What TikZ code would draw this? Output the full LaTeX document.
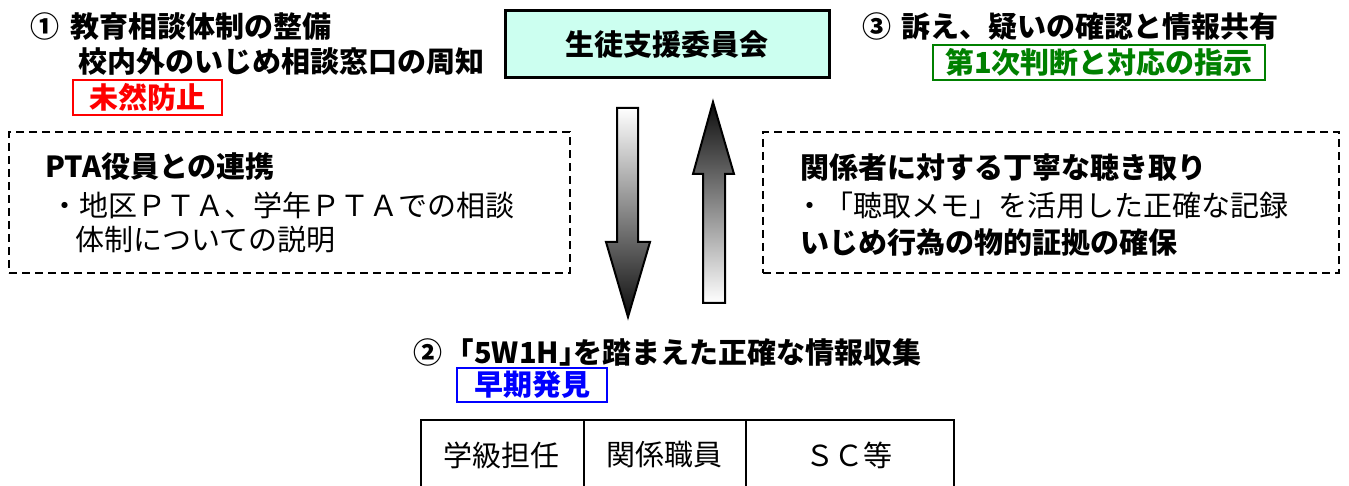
\documentclass[tikz,border=0pt]{standalone}
\usepackage{fontspec}
\newfontfamily\jp{Noto Sans CJK JP}
\definecolor{boxcyan}{RGB}{204,255,240}
\definecolor{tagred}{RGB}{255,0,0}
\definecolor{taggreen}{RGB}{0,128,0}
\definecolor{tagblue}{RGB}{0,0,255}
\begin{document}
\begin{tikzpicture}[x=0.5pt,y=-0.5pt,
  every node/.style={inner sep=0pt},
  head/.style={anchor=west, font=\jp\bfseries\fontsize{14.5}{17}\selectfont},
  body/.style={anchor=west, font=\jp\fontsize{14.5}{17}\selectfont},
  tagbox/.style={draw=#1, text=#1, line width=1pt, font=\jp\bfseries\fontsize{14.5}{17}\selectfont},
  dashbox/.style={draw=black, line width=0.8pt, dash pattern=on 4pt off 2.5pt},
  cell/.style={draw=black, line width=1pt},
  celltext/.style={font=\jp\fontsize{14.5}{17}\selectfont},
  arrowshape/.style={draw=black, line width=1pt}
]
\useasboundingbox (0,0) rectangle (1349,486);
\clip (0,0) rectangle (1349,486);

% top left
\node[head] (t1) at (30,27) {①\hspace{0.4em}教育相談体制の整備};
\node[head] (t2) at (78,62) {校内外のいじめ相談窓口の周知};
\node[tagbox=tagred, minimum width=74.5pt, minimum height=17.5pt] (mizen) at (147.5,97.5) {未然防止};

% center box
\node[draw=black, line width=1.5pt, fill=boxcyan, minimum width=162pt, minimum height=33.5pt,
      font=\jp\bfseries\fontsize{14.5}{17}\selectfont] (iinkai) at (667,44.5) {生徒支援委員会};

% top right
\node[head] (t3) at (862,27) {③\hspace{0.35em}訴え、疑いの確認と情報共有};
\node[tagbox=taggreen, minimum width=166pt, minimum height=17.5pt] (handan) at (1099,62.5) {第1次判断と対応の指示};

% dashed boxes
\node[dashbox, minimum width=280.5pt, minimum height=70.5pt] (ptabox) at (289.5,202.5) {};
\node[head] (t4) at (45,167) {PTA役員との連携};
\node[body] (t5) at (50,205) {・地区ＰＴＡ、学年ＰＴＡでの相談};
\node[body] (t6) at (75,240) {体制についての説明};

\node[dashbox, minimum width=288pt, minimum height=70.5pt] (kikibox) at (1051,202.5) {};
\node[head] (t7) at (800,168) {関係者に対する丁寧な聴き取り};
\node[body] (t8) at (795,205) {・「聴取メモ」を活用した正確な記録};
\node[head] (t9) at (800,242) {いじめ行為の物的証拠の確保};

% block arrows
\shadedraw[arrowshape, top color=white, bottom color=black!95]
  (617,108) -- (638,108) -- (638,242) -- (650,242) -- (628,317) -- (606,242) -- (617,242) -- cycle;
\shadedraw[arrowshape, top color=black!95, bottom color=white]
  (713,102) -- (734,174) -- (725,174) -- (725,303) -- (703,303) -- (703,174) -- (693,174) -- cycle;

% bottom
\node[head] (t10) at (413,352) {②\hspace{0.6em}｢5W1H｣を踏まえた正確な情報収集};
\node[tagbox=tagblue, minimum width=75pt, minimum height=17pt] (souki) at (532,385) {早期発見};

\node[cell, minimum width=81.5pt, minimum height=45pt, anchor=north west] (c1) at (420,419) {};
\node[cell, minimum width=81pt, minimum height=45pt, anchor=north west] (c2) at (583,419) {};
\node[cell, minimum width=104pt, minimum height=45pt, anchor=north west] (c3) at (745,419) {};
\node[celltext] (c1t) at (501.5,455) {学級担任};
\node[celltext] (c2t) at (664,455) {関係職員};
\node[celltext] (c3t) at (849,455) {ＳＣ等};
\end{tikzpicture}
\end{document}
